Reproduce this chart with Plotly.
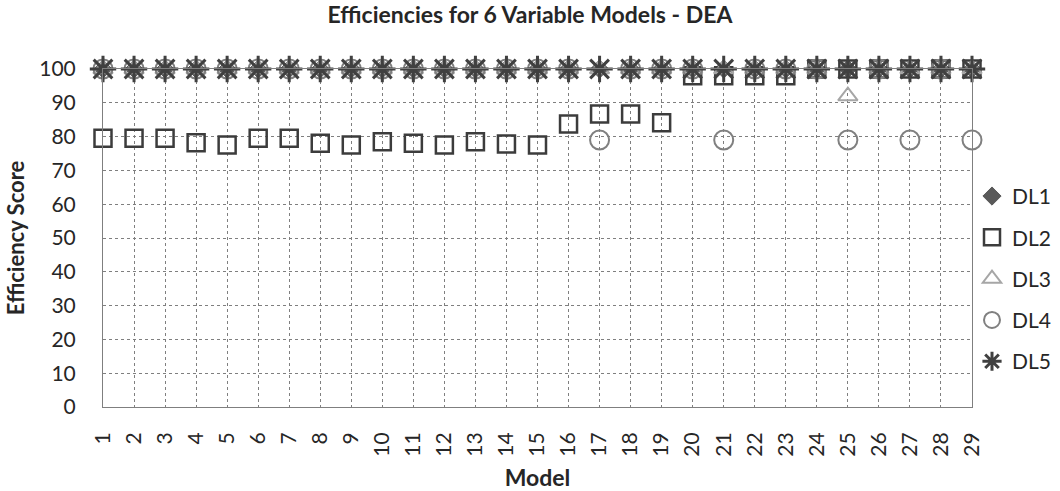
import plotly.graph_objects as go

models = list(range(1, 30))
tick_labels = [str(m) for m in models]

dl1 = [100] * 29
dl2 = [79.5, 79.5, 79.5, 78.2, 77.5, 79.5, 79.5, 78.0, 77.5, 78.5,
       78.0, 77.5, 78.5, 77.8, 77.5, 83.7, 86.7, 86.7, 84.1, 98.0,
       98.0, 98.0, 98.0, 100, 100, 100, 100, 100, 100]
dl3 = [100] * 24 + [92] + [100] * 4
dl4 = [100] * 16 + [79] + [100] * 3 + [79] + [100] * 3 + [79, 100, 79, 100, 79]
dl5 = [100] * 29

FONT = "Lato"

series = [
    ("DL1", dl1, "diamond", "#595959", 14, 1),
    ("DL2", dl2, "square-open", "#3c3c3c", 17, 2.5),
    ("DL3", dl3, "triangle-up-open", "#a6a6a6", 17, 2),
    ("DL4", dl4, "circle-open", "#808080", 19, 2),
    ("DL5", dl5, "asterisk-open", "#404040", 22, 3),
]

fig = go.Figure()
for i, (name, vals, sym, col, size, lw) in enumerate(series):
    fig.add_trace(go.Scatter(
        x=models, y=vals, mode="markers", name=name,
        legendgroup=name,
        marker=dict(symbol=sym, size=size, color=col,
                    line=dict(color=col, width=lw)),
        cliponaxis=False,
    ))

grid = "#7f7f7f"
fig.update_layout(
    width=1060, height=491,
    margin=dict(l=103, r=88, t=69, b=84, autoexpand=False),
    paper_bgcolor="white", plot_bgcolor="white",
    font=dict(family=FONT, size=21, color="#262626"),
    title=dict(text="<b>Efficiencies for 6 Variable Models - DEA</b>",
               x=0.5, xanchor="center", y=0.97, yanchor="middle",
               font=dict(family=FONT, size=23, color="#262626")),
    legend=dict(x=1.0, xanchor="left", y=0.379, yanchor="middle",
                font=dict(family=FONT, size=21, color="#262626"),
                tracegroupgap=11, bgcolor="rgba(0,0,0,0)"),
    showlegend=True,
)
fig.update_xaxes(
    range=[1, 29], tickmode="array", tickvals=models, ticktext=tick_labels,
    tickangle=-90, showgrid=True, gridcolor=grid, griddash="dot", gridwidth=1,
    showline=True, linecolor=grid, mirror=True, zeroline=False,
    ticks="", ticklabelstandoff=16, automargin=False,
    tickfont=dict(family=FONT, size=21, color="#262626"),
    title=dict(text="<b>Model</b>", standoff=17,
               font=dict(family=FONT, size=23, color="#262626")),
)
fig.update_yaxes(
    range=[0, 100], dtick=10, showgrid=True, gridcolor=grid, griddash="dot",
    gridwidth=1, showline=True, linecolor=grid, mirror=True, zeroline=False,
    ticks="", ticklabelstandoff=22, automargin=False,
    tickfont=dict(family=FONT, size=21, color="#262626"),
    title=dict(text="<b>Efficiency Score</b>", standoff=8,
               font=dict(family=FONT, size=22, color="#262626")),
)

fig.write_html("out.html")
